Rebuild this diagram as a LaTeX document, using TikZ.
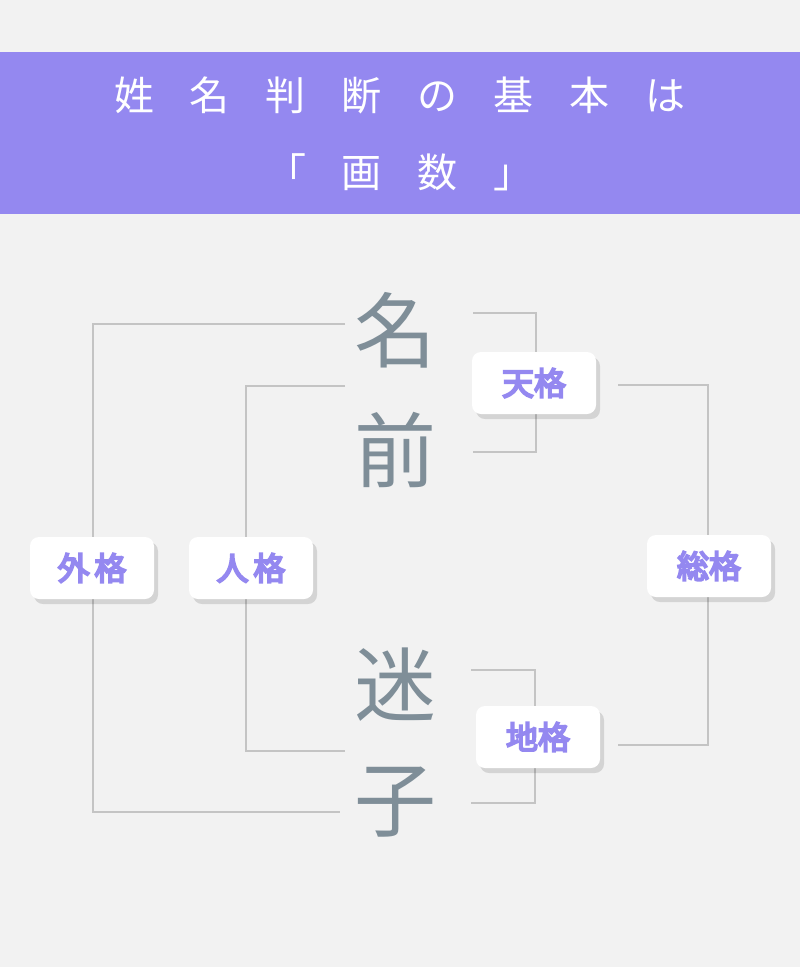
\documentclass[tikz,border=0pt]{standalone}
\usepackage{fontspec}
\newfontfamily\cjk{Noto Sans CJK JP}
\newfontfamily\cjkb[AutoFakeBold=6]{Noto Sans CJK JP}
\usetikzlibrary{shadows}
\definecolor{bg}{HTML}{F2F2F2}
\definecolor{band}{HTML}{9488F0}
\definecolor{big}{HTML}{7F8E98}
\definecolor{ln}{HTML}{C4C4C4}
\begin{document}
\begin{tikzpicture}[x=1pt,y=-1pt,
 lab/.style={draw=none,fill=white,rounded corners=9pt,minimum width=124pt,minimum height=62pt,
   font=\cjkb\fontsize{32}{32}\selectfont\bfseries,text=band,
   drop shadow={shadow xshift=4pt,shadow yshift=-5pt,fill=black,opacity=0.12}},
 bigc/.style={font=\cjk\fontsize{82}{82}\selectfont,text=big},
 br/.style={draw=ln,line width=1.3pt}]
\useasboundingbox (0,0) rectangle (800,967);
\fill[bg] (0,0) rectangle (800,967);
\fill[band] (0,52) rectangle (800,214);
\node[text=white,font=\cjk\fontsize{40}{40}\selectfont] (t1) at (400,95) {姓\hspace{0.9em}名\hspace{0.9em}判\hspace{0.9em}断\hspace{0.9em}の\hspace{0.9em}基\hspace{0.9em}本\hspace{0.9em}は};
\node[text=white,font=\cjk\fontsize{40}{40}\selectfont] (t2) at (400,172) {「\hspace{0.9em}画\hspace{0.9em}数\hspace{0.9em}」};
\node[bigc] (na) at (395,330) {名};
\node[bigc] (mae) at (395,450) {前};
\node[bigc] (mei) at (395,685) {迷};
\node[bigc] (ko) at (395,802) {子};
\coordinate (g1) at (345,324); \coordinate (g2) at (340,812);
\coordinate (j1) at (345,386); \coordinate (j2) at (345,751);
\coordinate (te1) at (473,313); \coordinate (te2) at (473,452);
\coordinate (s1) at (618,385); \coordinate (s2) at (618,745);
\coordinate (c1) at (471,670); \coordinate (c2) at (471,803);
\draw[br] (g1) -| (93,568) |- (g2);
\draw[br] (j1) -| (246,568) |- (j2);
\draw[br] (te1) -| (536,383) |- (te2);
\draw[br] (s1) -| (708,566) |- (s2);
\draw[br] (c1) -| (535,737) |- (c2);
\node[lab] (gai) at (92,568) {外\hspace{0.15em}格};
\node[lab] (jin) at (251,568) {人\hspace{0.15em}格};
\node[lab] (ten) at (534,383) {天格};
\node[lab] (sou) at (709,566) {総格};
\node[lab] (chi) at (538,737) {地格};
\end{tikzpicture}
\end{document}
